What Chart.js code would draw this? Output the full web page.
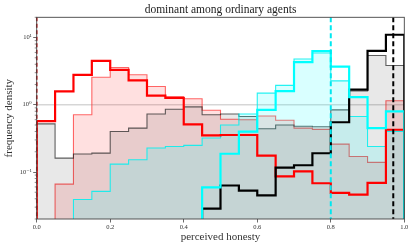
<!DOCTYPE html>
<html><head><meta charset="utf-8">
<script src="https://cdn.jsdelivr.net/npm/chart.js"></script>
<style>html,body{margin:0;padding:0;background:#fff}#wrap{width:415px;height:249px}</style>
</head><body><div id="wrap"><canvas id="c" width="415" height="249"></canvas></div>
<script>
// ---- data ----
const binEdges = [0.00,0.05,0.10,0.15,0.20,0.25,0.30,0.35,0.40,0.45,0.50,0.55,0.60,0.65,0.70,0.75,0.80,0.85,0.90,0.95,1.00];
const redThick   = [0.57,1.58,2.79,4.5,3.3,2.3,1.37,1.26,0.51,0.35,0.355,0.355,0.175,0.086,0.102,0.068,0.049,0.046,0.069,0.425];
const redThin    = [0,0.066,0.71,2.57,3.59,2.79,1.87,1.33,1.23,0.83,0.61,0.6,0.68,0.59,0.45,0.43,0.26,0.17,0.139,1.15];
const blackThick = [0,0,0,0,0,0,0,0,0,0.0285,0.063,0.053,0.045,0.116,0.126,0.19,0.55,1.68,6.35,11.0];
const blackThin  = [0.52,0.161,0.185,0.191,0.40,0.45,0.73,0.86,0.93,0.71,0.73,0.67,0.44,0.50,0.48,0.47,0.84,1.6,5.4,3.84];
const cyanThick  = [0,0,0,0,0,0,0,0,0,0.059,0.187,0.40,0.84,1.6,4.3,6.3,3.7,1.3,0.45,0.80];
const cyanThin   = [0,0,0.039,0.0515,0.131,0.152,0.227,0.24,0.249,0.32,0.50,0.73,1.49,1.94,4.8,5.9,2.27,0.67,0.24,0.40];
const xTickValues = [0.0,0.2,0.4,0.6,0.8,1.0];
const yTickValues = [0.1,1,10];
const yTickLabels = ['10\u207B\u00B9','10\u2070','10\u00B9'];
const redMean = 0.0, cyanMean = 0.80, blackMean = 0.97;
const refLevel = 1;
const titleText = 'dominant among ordinary agents';
const xLabel = 'perceived honesty';
const yLabel = 'frequency density';

// ---- build ----
const FLOOR = 1e-4;
function stepPoints(values){
  const n = binEdges.length - 1;
  const pts = [{x: binEdges[0], y: FLOOR}];
  for (let i = 0; i < n; i++) pts.push({x: binEdges[i], y: Math.max(values[i], FLOOR)});
  pts.push({x: binEdges[n], y: Math.max(values[n-1], FLOOR)});
  pts.push({x: binEdges[n], y: FLOOR});
  return pts;
}
function ds(values, line, width, fill, order){
  return {data: stepPoints(values), borderColor: line, borderWidth: width, stepped: true,
    pointRadius: 0, fill: fill ? 'start' : false, backgroundColor: fill || 'transparent',
    order: order, borderJoinStyle: 'miter', tension: 0};
}
const SERIF = "'Liberation Serif','DejaVu Serif',serif";

const extras = {
  id: 'extras',
  beforeDatasetsDraw(chart){
    const {ctx, chartArea: a, scales: {x, y}} = chart;
    ctx.save();
    ctx.strokeStyle = 'rgba(0,0,0,0.16)'; ctx.lineWidth = 1.5;
    const py = y.getPixelForValue(refLevel);
    ctx.beginPath(); ctx.moveTo(a.left, py); ctx.lineTo(a.right, py); ctx.stroke();
    ctx.restore();
  },
  afterDatasetsDraw(chart){
    const {ctx, chartArea: a, scales: {x, y}} = chart;
    ctx.save();
    ctx.beginPath(); ctx.rect(a.left-1, a.top, a.right-a.left+2, a.bottom-a.top); ctx.clip();
    const vl = (v, col, w, dash) => {
      const px = x.getPixelForValue(v);
      ctx.strokeStyle = col; ctx.lineWidth = w; ctx.setLineDash(dash);
      ctx.beginPath(); ctx.moveTo(px, a.top); ctx.lineTo(px, a.bottom); ctx.stroke();
    };
    vl(cyanMean, '#00e8f0', 2, [5, 3]);
    vl(blackMean, '#000000', 2, [5, 3]);
    vl(redMean, '#c00000', 1.6, [4, 2.5]);
    ctx.restore();
    ctx.save();
    ctx.strokeStyle = '#444'; ctx.lineWidth = 0.9;
    ctx.strokeRect(a.left, a.top, a.right - a.left, a.bottom - a.top);
    // minor log ticks
    ctx.lineWidth = 0.6;
    for (let d = -2; d <= 1; d++) {
      for (let m = 2; m <= 9; m++) {
        const v = m * Math.pow(10, d);
        if (v < y.min || v > y.max) continue;
        const py = y.getPixelForValue(v);
        ctx.beginPath(); ctx.moveTo(a.left - 2, py); ctx.lineTo(a.left, py); ctx.stroke();
      }
    }
    ctx.restore();
  }
};

new Chart(document.getElementById('c'), {
  type: 'line',
  data: { datasets: [
    ds(redThin,   'rgba(255,40,40,0.7)',  1.1, 'rgba(255,0,0,0.12)', 6),
    ds(blackThin, 'rgba(30,30,30,0.7)',   1.1, 'rgba(0,0,0,0.09)',   5),
    ds(cyanThin,  'rgba(0,240,240,0.85)', 1.1, 'rgba(0,255,255,0.15)', 4),
    ds(redThick,  '#ff0000', 2.2, null, 3),
    ds(blackThick,'#000000', 2.2, null, 2),
    ds(cyanThick, '#00ffff', 2.2, null, 1)
  ]},
  options: {
    responsive: false, animation: false, devicePixelRatio: 1,
    layout: { padding: { left: 0, right: 10.7, top: 0, bottom: 0 } },
    plugins: {
      legend: { display: false }, tooltip: { enabled: false },
      title: { display: true, text: titleText, fullSize: false, color: '#222',
        font: { family: SERIF, size: 11.5, weight: 'normal' }, padding: { top: 3.5, bottom: 0 } }
    },
    scales: {
      x: { type: 'linear', min: 0, max: 1,
        afterBuildTicks: s => { s.ticks = xTickValues.map(v => ({value: v})); },
        afterFit: s => { s.height = 30; },
        border: { display: false },
        grid: { drawOnChartArea: false, drawTicks: true, tickLength: 3.5, tickColor: '#444', tickWidth: 0.8 },
        ticks: { padding: 1, color: '#333', font: { family: SERIF, size: 6.5 }, maxRotation: 0,
          callback: v => v.toFixed(1) },
        title: { display: true, text: xLabel, color: '#333', font: { family: SERIF, size: 11 }, padding: { top: 0, bottom: 5.6 } }
      },
      y: { type: 'logarithmic', min: 0.02, max: 20,
        afterBuildTicks: s => { s.ticks = yTickValues.map(v => ({value: v})); },
        afterFit: s => { s.width = 36.7; },
        border: { display: false },
        grid: { drawOnChartArea: false, drawTicks: true, tickLength: 3.5, tickColor: '#444', tickWidth: 0.8 },
        ticks: { padding: 1.5, color: '#333', font: { family: SERIF, size: 6.5 },
          callback: (v) => { const i = yTickValues.indexOf(v); return i >= 0 ? yTickLabels[i] : ''; } },
        title: { display: true, text: yLabel, color: '#333', font: { family: SERIF, size: 11 }, padding: { top: 2.7, bottom: 0 } }
      }
    }
  },
  plugins: [extras]
});
</script></body></html>
